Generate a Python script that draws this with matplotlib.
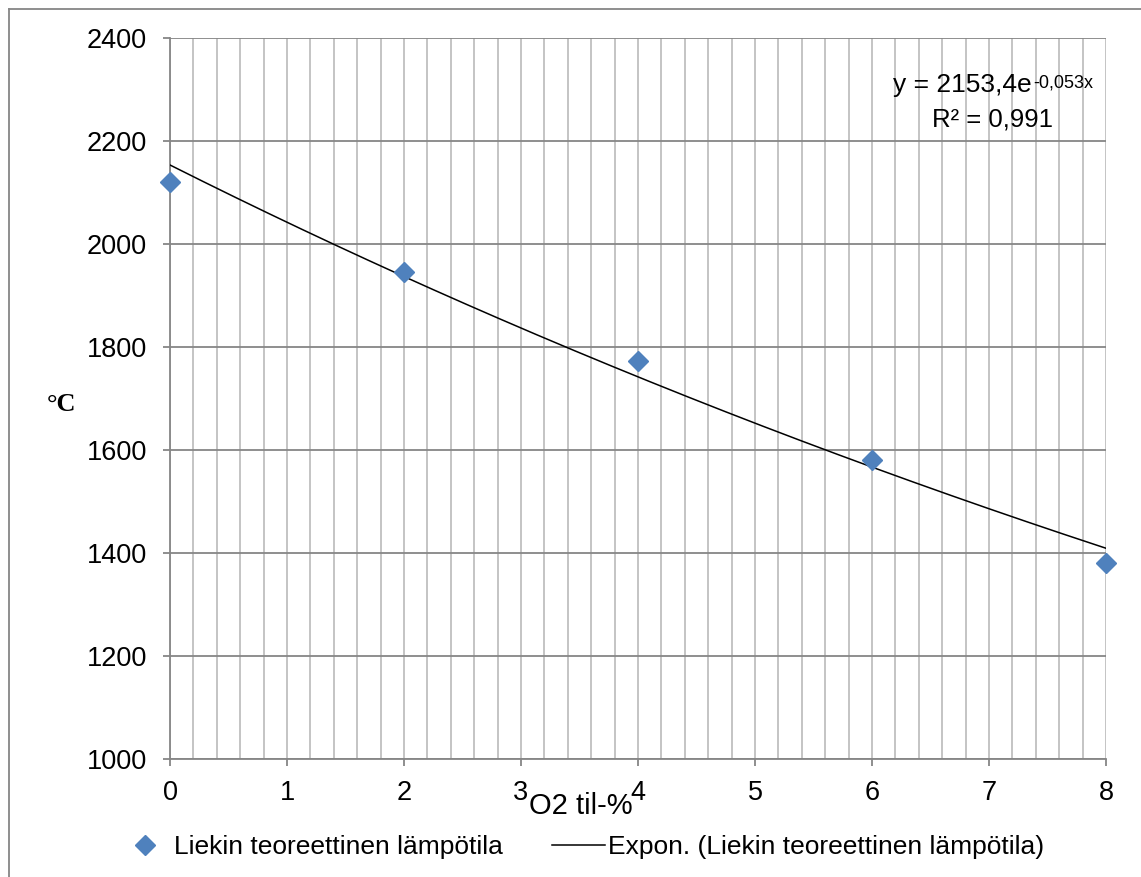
import matplotlib.pyplot as plt
from matplotlib.lines import Line2D
from matplotlib.ticker import MultipleLocator
import numpy as np

# data
o2_pct = [0, 2, 4, 6, 8]
flame_temp = [2120, 1946, 1772, 1580, 1380]

# Excel exponential trendline coefficients (from the label)
TREND_A = 2153.4
TREND_B = -0.053

X_MIN, X_MAX = 0, 8
Y_MIN, Y_MAX = 1000, 2400

BLUE = '#4F81BD'
GRID_DARK = '#868686'
GRID_LIGHT = '#BFBFBF'

plt.rcParams['font.family'] = ['Liberation Sans', 'DejaVu Sans']

fig = plt.figure(figsize=(11.41, 8.77), dpi=100)
ax = fig.add_axes([170 / 1141, 1 - 759 / 877, 936 / 1141, 721 / 877])

ax.set_xlim(X_MIN, X_MAX)
ax.set_ylim(Y_MIN, Y_MAX)
ax.xaxis.set_major_locator(MultipleLocator(1))
ax.xaxis.set_minor_locator(MultipleLocator(0.2))
ax.yaxis.set_major_locator(MultipleLocator(200))

ax.grid(which='both', axis='x', color=GRID_LIGHT, linewidth=1.3)
ax.grid(which='major', axis='y', color=GRID_DARK, linewidth=1.3)
ax.set_axisbelow(True)

for side in ('top', 'right'):
    ax.spines[side].set_visible(False)
for side in ('left', 'bottom'):
    ax.spines[side].set_color(GRID_DARK)
    ax.spines[side].set_linewidth(1.3)

ax.tick_params(axis='both', which='major', direction='out', length=5, width=1.3,
               color=GRID_DARK, labelsize=19.5, pad=10)
ax.tick_params(axis='y', which='major', pad=11.5)
ax.tick_params(axis='x', which='minor', length=0)

# trendline
xs = np.linspace(X_MIN, X_MAX, 200)
ax.plot(xs, TREND_A * np.exp(TREND_B * xs), color='black', linewidth=1.1,
        label='Expon. (Liekin teoreettinen lämpötila)', zorder=3)

ax.plot(o2_pct, flame_temp, linestyle='none', marker='D', markersize=10,
        color=BLUE, label='Liekin teoreettinen lämpötila', zorder=4, clip_on=False)

# trend equation
eq = ax.text((893 - 170) / 936, (759 - 92) / 721, 'y = 2153,4e', fontsize=19,
             ha='left', va='baseline', transform=ax.transAxes)
ax.annotate('-0,053x', xy=(1, 1), xycoords=eq, xytext=(1.5, -1), textcoords='offset points',
            fontsize=13, ha='left', va='top')
ax.text((992 - 170) / 936, (759 - 127) / 721, 'R² = 0,991', fontsize=18.5,
        ha='center', va='baseline', transform=ax.transAxes)

# axis labels
fig.text(581 / 1141, 1 - 806 / 877, 'O2 til-%', fontsize=21, ha='center', va='center')
fig.text(47 / 1141, 1 - 405 / 877, '°C', fontsize=19, ha='left', va='center',
         family=['Liberation Serif', 'DejaVu Serif'], weight='bold')

handles, labels = ax.get_legend_handles_labels()
fig.legend(handles[::-1], labels[::-1], loc='center', ncol=2, frameon=False,
           bbox_to_anchor=(581 / 1141, 1 - 847 / 877), fontsize=19,
           handlelength=2.0, handletextpad=0.12, columnspacing=1.85)

# chart frame (only left/top visible in the crop)
fig.add_artist(Line2D([9 / 1141, 9 / 1141], [0, 1 - 9 / 877], color=GRID_DARK, linewidth=1.3))
fig.add_artist(Line2D([9 / 1141, 1], [1 - 9 / 877, 1 - 9 / 877], color=GRID_DARK, linewidth=1.3))

fig.savefig('out.png', dpi=100)
